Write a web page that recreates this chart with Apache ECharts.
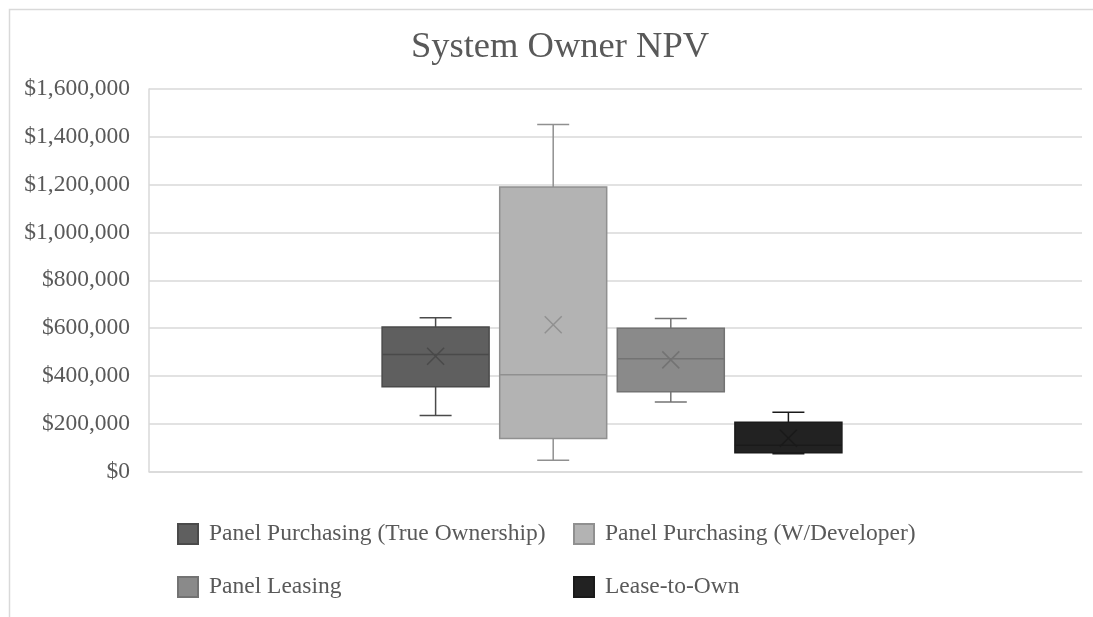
<!DOCTYPE html>
<html>
<head>
<meta charset="utf-8">
<script src="https://cdn.jsdelivr.net/npm/echarts@6/dist/echarts.min.js"></script>
<style>
  html, body { margin: 0; padding: 0; background: #fff; }
  #chart { width: 1093px; height: 617px; }
</style>
</head>
<body>
<div id="chart"></div>
<script>
var seriesNames = [
    'Panel Purchasing (True Ownership)',
    'Panel Purchasing (W/Developer)',
    'Panel Leasing',
    'Lease-to-Own'
];
var minValues = [234000, 47000, 291000, 74000];
var q1Values = [355000, 138000, 334000, 78000];
var medianValues = [489000, 405000, 472000, 110000];
var q3Values = [604000, 1190000, 599000, 206000];
var maxValues = [643000, 1451000, 640000, 248000];
var meanValues = [482000, 614000, 467000, 139000];

var fillColors = ['#5f5f5f', '#b3b3b3', '#8a8a8a', '#222222'];
var lineColors = ['#4a4a4a', '#909090', '#737373', '#1a1a1a'];

var font = 'Liberation Serif';
var textColor = '#595959';
var gridColor = '#d9d9d9';

var boxSpacing = 117.6;
var boxWidth = 107;
var capWidth = 32;
var markSize = 8.5;

var chart = echarts.init(document.getElementById('chart'));

// draws one Excel-style box: whiskers with short caps, box, median line, mean cross
function renderBox(params, api) {
    var i = params.seriesIndex;
    var base = api.coord([api.value(0), 0]);
    var cx = base[0] + (i - 1.5) * boxSpacing - 3.5;
    var y = function (v) { return api.coord([api.value(0), v])[1]; };
    var yMin = y(api.value(1)), yQ1 = y(api.value(2)), yMed = y(api.value(3));
    var yQ3 = y(api.value(4)), yMax = y(api.value(5)), yMean = y(api.value(6));
    var stroke = { stroke: lineColors[i], lineWidth: 1.5 };
    var half = boxWidth / 2, cap = capWidth / 2;
    return {
        type: 'group',
        children: [
            { type: 'line', shape: { x1: cx, y1: yQ3, x2: cx, y2: yMax }, style: stroke },
            { type: 'line', shape: { x1: cx - cap, y1: yMax, x2: cx + cap, y2: yMax }, style: stroke },
            { type: 'line', shape: { x1: cx, y1: yQ1, x2: cx, y2: yMin }, style: stroke },
            { type: 'line', shape: { x1: cx - cap, y1: yMin, x2: cx + cap, y2: yMin }, style: stroke },
            {
                type: 'rect',
                shape: { x: cx - half, y: yQ3, width: boxWidth, height: yQ1 - yQ3 },
                style: { fill: fillColors[i], stroke: lineColors[i], lineWidth: 1.5 }
            },
            { type: 'line', shape: { x1: cx - half, y1: yMed, x2: cx + half, y2: yMed }, style: stroke },
            { type: 'line', shape: { x1: cx - markSize, y1: yMean - markSize, x2: cx + markSize, y2: yMean + markSize }, style: stroke },
            { type: 'line', shape: { x1: cx - markSize, y1: yMean + markSize, x2: cx + markSize, y2: yMean - markSize }, style: stroke }
        ]
    };
}

var series = [];
for (var n = 0; n < seriesNames.length; n++) {
    series.push({
        name: seriesNames[n],
        type: 'custom',
        renderItem: renderBox,
        itemStyle: { color: fillColors[n], borderColor: lineColors[n], borderWidth: 1.5 },
        encode: { x: 0, y: [1, 2, 3, 4, 5, 6] },
        data: [[0, minValues[n], q1Values[n], medianValues[n], q3Values[n], maxValues[n], meanValues[n]]]
    });
}

var legendText = {
    fontFamily: font,
    fontSize: 23.5,
    color: textColor,
    lineHeight: 20,
    padding: [0, 0, 0, 6]
};

var option = {
    animation: false,
    backgroundColor: '#ffffff',
    title: {
        text: 'System Owner NPV',
        left: 555,
        textAlign: 'center',
        top: 24,
        textStyle: { fontFamily: font, fontSize: 36.5, fontWeight: 'normal', color: textColor }
    },
    graphic: [{
        type: 'rect',
        shape: { x: 9.5, y: 9.5, width: 1200, height: 700 },
        style: { fill: 'none', stroke: gridColor, lineWidth: 1.5 },
        silent: true
    }],
    legend: [{
        orient: 'vertical',
        left: 172,
        top: 517,
        itemWidth: 20,
        itemHeight: 20,
        itemGap: 29,
        icon: 'rect',
        data: [seriesNames[0], seriesNames[2]],
        textStyle: legendText
    }, {
        orient: 'vertical',
        left: 568,
        top: 517,
        itemWidth: 20,
        itemHeight: 20,
        itemGap: 29,
        icon: 'rect',
        data: [seriesNames[1], seriesNames[3]],
        textStyle: legendText
    }],
    grid: {
        left: 149,
        right: 11,
        top: 89,
        bottom: 145.5,
        containLabel: false
    },
    xAxis: {
        type: 'category',
        data: [''],
        axisLine: { show: true, lineStyle: { color: gridColor, width: 1.5 } },
        axisTick: { show: false },
        axisLabel: { show: false }
    },
    yAxis: {
        type: 'value',
        min: 0,
        max: 1600000,
        interval: 200000,
        axisLine: { show: true, lineStyle: { color: gridColor, width: 1.5 } },
        axisTick: { show: false },
        splitLine: { lineStyle: { color: gridColor, width: 1.5 } },
        axisLabel: {
            margin: 19,
            fontFamily: font,
            fontSize: 23.5,
            color: textColor,
            formatter: function (v) { return '$' + v.toLocaleString('en-US'); }
        }
    },
    series: series
};

chart.setOption(option);
</script>
</body>
</html>
